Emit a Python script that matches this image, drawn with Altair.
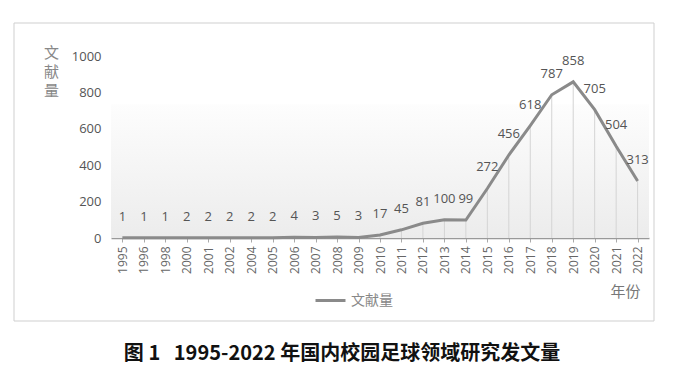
import altair as alt
import pandas as pd

years = ["1995", "1996", "1998", "2000", "2001", "2002", "2004", "2005", "2006",
         "2007", "2008", "2009", "2010", "2011", "2012", "2013", "2014", "2015",
         "2016", "2017", "2018", "2019", "2020", "2021", "2022"]
counts = [1, 1, 1, 2, 2, 2, 2, 2, 4, 3, 5, 3, 17, 45, 81, 100, 99, 272,
          456, 618, 787, 858, 705, 504, 313]
series_name = "文献量"
caption = "图 1\u00a0\u00a0\u00a01995-2022 年国内校园足球领域研究发文量"
y_ticks = [0, 200, 400, 600, 800, 1000]

df = pd.DataFrame({"year": years, "value": counts, "s": series_name})

FONT = "Open Sans"
CJK = "Noto Sans CJK SC"

xenc = alt.X("year:O", sort=None,
             scale=alt.Scale(type="point", padding=0.53),
             axis=alt.Axis(title="年份", labelAngle=270, labelFontSize=12,
                           labelColor="#666", labelFont=FONT, labelPadding=4,
                           tickSize=4, tickColor="#aaa", domainColor="#999",
                           domainWidth=1.5,
                           titleX=514, titleY=53, titleAlign="center",
                           titleBaseline="middle", titleFont=CJK,
                           titleFontSize=15, titleFontWeight="normal",
                           titleColor="#777"))
yscale = alt.Scale(domain=[0, 1000], nice=False)
yaxis = alt.Axis(values=y_ticks, format="d", grid=False,
                 domain=False, ticks=False, labelFontSize=13,
                 labelColor="#555", labelFont=FONT, labelPadding=10,
                 labelOverlap=False, labelFlush=False,
                 title=["文", "献", "量"], titleAngle=0, titleX=-60,
                 titleY=-11, titleAlign="center", titleBaseline="top",
                 titleFont=CJK, titleFontSize=15,
                 titleFontWeight="normal", titleColor="#888",
                 titleLineHeight=19)
yenc = alt.Y("value:Q", scale=yscale, axis=yaxis)

base = alt.Chart(df)

one = alt.Data(values=[{"a": 1}])

bg = alt.Chart(one).mark_rect(
    color=alt.LinearGradient(gradient="linear",
                             stops=[alt.GradientStop(color="#fdfdfd", offset=0),
                                    alt.GradientStop(color="#ececec", offset=1)],
                             x1=0, x2=0, y1=0, y2=1)
).encode(x=alt.value(0), x2=alt.value(538),
         y=alt.Y(datum=735, type="quantitative", scale=yscale, axis=yaxis),
         y2=alt.datum(0))

frame = alt.Chart(one).mark_rect(fill="white", fillOpacity=0, stroke="#cfcfcf",
                                 strokeWidth=1).encode(
    x=alt.value(-97), x2=alt.value(543), y=alt.value(-33), y2=alt.value(265))

drops = base.mark_rule(color="#d4d4d4", strokeWidth=1).encode(
    x=xenc, y=yenc, y2=alt.datum(0))

line = base.mark_line(strokeWidth=3).encode(
    x=xenc, y=yenc,
    color=alt.Color("s:N", scale=alt.Scale(range=["#8a8a8a"]),
                    legend=alt.Legend(title=None, orient="none", legendX=203,
                                      legendY=228, symbolType="stroke",
                                      symbolStrokeWidth=3, symbolSize=900,
                                      labelFontSize=14, labelColor="#888",
                                      labelFont=CJK)))

labels = base.mark_text(dy=-21, fontSize=13, color="#555", font=FONT,
                        baseline="middle", align="center").encode(
    x=xenc, y=yenc, text="value:Q")

cap = alt.Chart(alt.Data(values=[{"t": caption}])).mark_text(
    fontSize=20, fontWeight="bold", font=CJK, color="#111",
    align="center", baseline="middle").encode(
    x=alt.value(231), y=alt.value(298), text="t:N")

chart = alt.layer(bg, frame, drops, line, labels, cap).properties(
    width=538, height=182,
    padding={"left": 5, "top": 14, "right": 5, "bottom": 5},
    background="white",
).configure_view(stroke=None)

chart.save("out.html", embed_options={"renderer": "svg", "actions": False})
